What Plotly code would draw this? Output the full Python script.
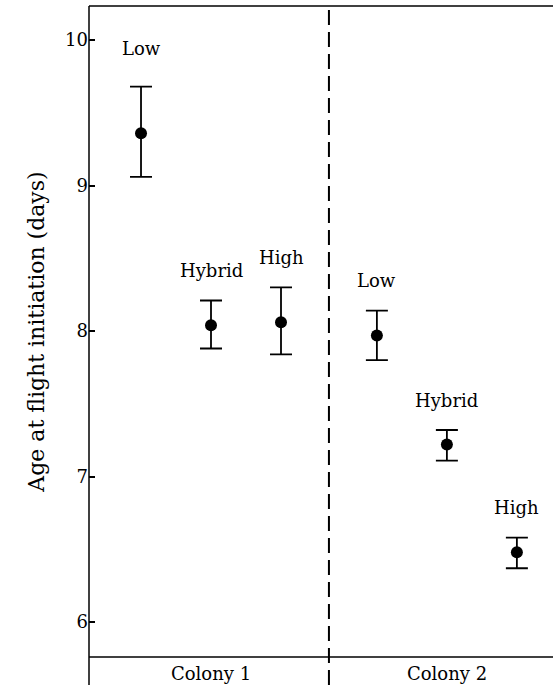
import plotly.graph_objects as go

# Data
colonies = ["Colony 1", "Colony 2"]
groups = ["Low", "Hybrid", "High"]
colony1_mean = [9.36, 8.04, 8.06]
colony1_upper = [9.68, 8.21, 8.30]
colony1_lower = [9.06, 7.88, 7.84]
colony2_mean = [7.97, 7.22, 6.48]
colony2_upper = [8.14, 7.32, 6.58]
colony2_lower = [7.80, 7.11, 6.37]
y_ticks = [6, 7, 8, 9, 10]

FONT = "DejaVu Serif"
W, H = 553, 687
L, R, T, B = 89, 0, 6, 30

# category positions along the x axis (colony 2 offset by a gap)
gap = 0.37
x1 = [i + 1 for i in range(len(groups))]
x2 = [i + 1 + len(groups) + gap for i in range(len(groups))]
xrange = [0.257, 6.886]
divider_x = (x1[-1] + x2[0]) / 2

fig = go.Figure()
for xs, m, up, lo in [(x1, colony1_mean, colony1_upper, colony1_lower),
                      (x2, colony2_mean, colony2_upper, colony2_lower)]:
    fig.add_trace(go.Scatter(
        x=xs, y=m, mode="markers",
        marker=dict(color="black", size=12),
        error_y=dict(type="data", symmetric=False,
                     array=[u - v for u, v in zip(up, m)],
                     arrayminus=[v - d for v, d in zip(m, lo)],
                     color="black", thickness=1.8, width=11),
        showlegend=False, hoverinfo="skip"))

annotations = []
shifts1 = [38, 30, 30]
shifts2 = [30, 30, 30]
for xs, up, sh in [(x1, colony1_upper, shifts1), (x2, colony2_upper, shifts2)]:
    for x, u, g, s in zip(xs, up, groups, sh):
        annotations.append(dict(x=x, y=u, text=g, showarrow=False,
                                yanchor="middle", yshift=s,
                                font=dict(family=FONT, size=18, color="black")))
for name, xs in zip(colonies, [x1, x2]):
    annotations.append(dict(x=xs[1], y=0, yref="paper", text=name, showarrow=False,
                            yanchor="middle", yshift=-16,
                            font=dict(family=FONT, size=18, color="black")))

plot_h = H - T - B
below = (H - 2) - (H - B)  # extend lines below axis to near bottom edge
below_paper = -(below / plot_h)

shapes = [
    # dashed divider
    dict(type="line", xref="x", yref="paper", x0=divider_x, x1=divider_x,
         y0=below_paper, y1=1, line=dict(color="black", width=2, dash="15px,7px")),
    # left axis line extended below
    dict(type="line", xref="paper", yref="paper", x0=0, x1=0,
         y0=below_paper, y1=1, line=dict(color="black", width=1.5)),
    # top border
    dict(type="line", xref="paper", yref="paper", x0=0, x1=1,
         y0=1, y1=1, line=dict(color="black", width=1.5)),
    # bottom axis
    dict(type="line", xref="paper", yref="paper", x0=0, x1=1,
         y0=0, y1=0, line=dict(color="black", width=1.5)),
]

fig.update_layout(
    width=W, height=H,
    margin=dict(l=L, r=R, t=T, b=B),
    paper_bgcolor="white", plot_bgcolor="white",
    xaxis=dict(range=xrange, showgrid=False, zeroline=False, showline=False,
               showticklabels=False, ticks=""),
    yaxis=dict(range=[5.76, 10.234], tickvals=y_ticks, showgrid=False,
               zeroline=False, showline=False, ticks="inside", ticklen=6,
               tickwidth=1.5, tickcolor="black",
               tickfont=dict(family=FONT, size=18, color="black"),
               title=dict(text="Age at flight initiation (days)", standoff=14,
                          font=dict(family=FONT, size=22, color="black"))),
    annotations=annotations,
    shapes=shapes,
)

fig.write_html("out.html", config={"displayModeBar": False},
               post_script="document.body.style.margin='0';document.body.style.overflow='hidden';")
